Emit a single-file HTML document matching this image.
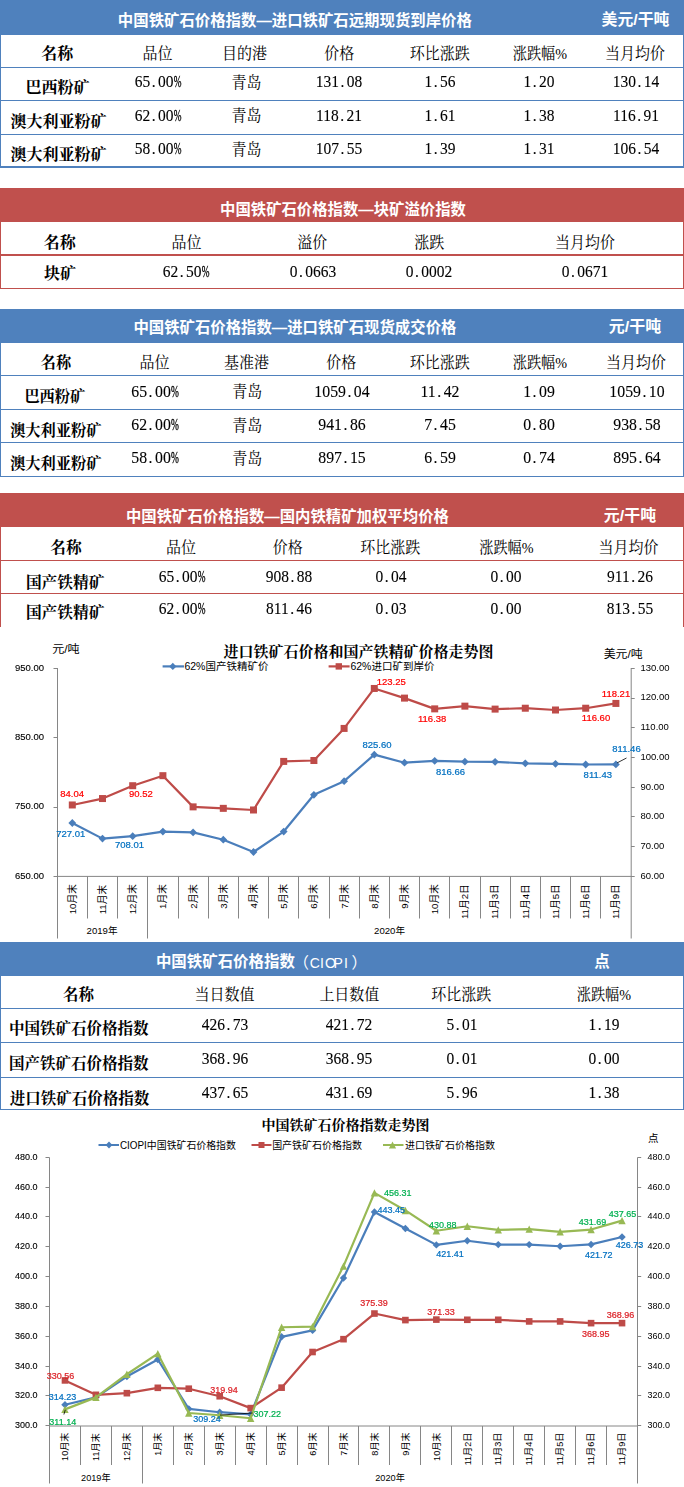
<!DOCTYPE html>
<html lang="zh"><head><meta charset="utf-8"><title>中国铁矿石价格指数</title>
<style>
html,body{margin:0;padding:0;background:#fff}
body{width:684px;height:1487px;overflow:hidden;font-family:"Liberation Sans",sans-serif}
#pg{position:relative;width:684px;height:1487px;overflow:hidden;background:#fff}
#tx{position:absolute;left:0;top:0;width:684px;height:1487px;will-change:transform;z-index:3}
.tb{position:absolute;left:0;width:682px;border-left:1px solid;border-right:1px solid;box-sizing:content-box}
.hd{position:absolute;left:-1px;right:-1px;top:0}
.ln{position:absolute;left:-1px;right:-1px}
.n{position:absolute;transform:translate(-50%,-50%) scaleX(.92);font-family:"Liberation Serif",serif;font-size:16.3px;line-height:16px;white-space:nowrap;color:#000;-webkit-text-stroke:.12px #000}
.n i{display:inline-block;font-style:normal;width:8.15px;text-align:left;text-indent:1.5px}
.n b{display:inline-block;font-weight:normal;width:8.15px;transform:scaleX(.6);transform-origin:0 50%;-webkit-text-stroke:.35px #000}
.c{position:absolute;z-index:3;transform:translate(-50%,-50%);font-family:"Liberation Sans",sans-serif;white-space:nowrap;line-height:1}
#ov{position:absolute;left:0;top:0;z-index:2}
#ov text{white-space:pre}
#ov .hb{font-family:"Liberation Sans","Noto Sans CJK SC",sans-serif;font-weight:bold;font-size:15.45px;fill:#fff}
#ov .kb{font-family:"Liberation Serif","Noto Serif CJK SC",serif;font-weight:bold;font-size:16px;fill:#000}
#ov .k{font-family:"Liberation Serif","Noto Serif CJK SC",serif;font-size:15.5px;fill:#000}
#ov .sb{font-family:"Liberation Serif","Noto Serif CJK SC",serif;font-weight:bold;fill:#000}
#ov .h{font-family:"Liberation Sans","Noto Sans CJK SC",sans-serif;fill:#000}
</style></head><body>
<div id="pg">
<div class="tb" style="top:0px;height:167px;border-color:#4f81bd"><div class="hd" style="height:35px;background:#4f81bd"></div><div class="ln" style="top:67px;height:1px;background:#4f81bd"></div><div class="ln" style="top:100px;height:1px;background:#4f81bd"></div><div class="ln" style="top:134px;height:1px;background:#4f81bd"></div></div>
<div class="ln" style="top:165.5px;height:2px;left:0;right:0;background:#4f81bd"></div>
<div class="tb" style="top:188px;height:101px;border-color:#c0504d"><div class="hd" style="height:34px;background:#c0504d"></div><div class="ln" style="top:66px;height:2px;background:#c0504d"></div></div>
<div class="ln" style="top:288px;height:1px;left:0;right:0;background:#c0504d"></div>
<div class="tb" style="top:309px;height:168px;border-color:#4f81bd"><div class="hd" style="height:34px;background:#4f81bd"></div><div class="ln" style="top:66px;height:1px;background:#4f81bd"></div><div class="ln" style="top:100px;height:1px;background:#4f81bd"></div><div class="ln" style="top:133px;height:1px;background:#4f81bd"></div></div>
<div class="ln" style="top:476px;height:1px;left:0;right:0;background:#4f81bd"></div>
<div class="tb" style="top:493px;height:134px;border-color:#c0504d"><div class="hd" style="height:34px;background:#c0504d"></div><div class="ln" style="top:67px;height:1px;background:#c0504d"></div><div class="ln" style="top:100px;height:1px;background:#c0504d"></div></div>
<div class="tb" style="top:942px;height:168px;border-color:#4f81bd"><div class="hd" style="height:34px;background:#4f81bd"></div><div class="ln" style="top:66px;height:1px;background:#4f81bd"></div><div class="ln" style="top:100px;height:1px;background:#4f81bd"></div><div class="ln" style="top:135px;height:1px;background:#4f81bd"></div></div>
<div class="ln" style="top:1109px;height:1px;left:0;right:0;background:#4f81bd"></div>
<div style="position:absolute;left:0;top:627px;width:684px;height:315px;background:#fff"></div>
<div id="tx">
<span class="n" style="left:158px;top:82px;transform:translate(-50%,-50%) scaleX(0.95);">65<i>.</i>00<b>%</b></span>
<span class="n" style="left:339.3px;top:82px;transform:translate(-50%,-50%) scaleX(0.95);">131<i>.</i>08</span>
<span class="n" style="left:440px;top:82px;transform:translate(-50%,-50%) scaleX(0.95);">1<i>.</i>56</span>
<span class="n" style="left:539px;top:82px;transform:translate(-50%,-50%) scaleX(0.95);">1<i>.</i>20</span>
<span class="n" style="left:636px;top:82px;transform:translate(-50%,-50%) scaleX(0.95);">130<i>.</i>14</span>
<span class="n" style="left:158px;top:115.5px;transform:translate(-50%,-50%) scaleX(0.95);">62<i>.</i>00<b>%</b></span>
<span class="n" style="left:339.3px;top:115.5px;transform:translate(-50%,-50%) scaleX(0.95);">118<i>.</i>21</span>
<span class="n" style="left:440px;top:115.5px;transform:translate(-50%,-50%) scaleX(0.95);">1<i>.</i>61</span>
<span class="n" style="left:539px;top:115.5px;transform:translate(-50%,-50%) scaleX(0.95);">1<i>.</i>38</span>
<span class="n" style="left:636px;top:115.5px;transform:translate(-50%,-50%) scaleX(0.95);">116<i>.</i>91</span>
<span class="n" style="left:158px;top:149px;transform:translate(-50%,-50%) scaleX(0.95);">58<i>.</i>00<b>%</b></span>
<span class="n" style="left:339.3px;top:149px;transform:translate(-50%,-50%) scaleX(0.95);">107<i>.</i>55</span>
<span class="n" style="left:440px;top:149px;transform:translate(-50%,-50%) scaleX(0.95);">1<i>.</i>39</span>
<span class="n" style="left:539px;top:149px;transform:translate(-50%,-50%) scaleX(0.95);">1<i>.</i>31</span>
<span class="n" style="left:636px;top:149px;transform:translate(-50%,-50%) scaleX(0.95);">106<i>.</i>54</span>
<span class="n" style="left:186px;top:271.8px;transform:translate(-50%,-50%) scaleX(0.95);">62<i>.</i>50<b>%</b></span>
<span class="n" style="left:312.5px;top:271.8px;transform:translate(-50%,-50%) scaleX(0.95);">0<i>.</i>0663</span>
<span class="n" style="left:429px;top:271.8px;transform:translate(-50%,-50%) scaleX(0.95);">0<i>.</i>0002</span>
<span class="n" style="left:585px;top:271.8px;transform:translate(-50%,-50%) scaleX(0.95);">0<i>.</i>0671</span>
<span class="n" style="left:154.5px;top:391.5px;transform:translate(-50%,-50%) scaleX(0.97);">65<i>.</i>00<b>%</b></span>
<span class="n" style="left:341.5px;top:391.5px;transform:translate(-50%,-50%) scaleX(0.97);">1059<i>.</i>04</span>
<span class="n" style="left:440px;top:391.5px;transform:translate(-50%,-50%) scaleX(0.97);">11<i>.</i>42</span>
<span class="n" style="left:539px;top:391.5px;transform:translate(-50%,-50%) scaleX(0.97);">1<i>.</i>09</span>
<span class="n" style="left:637px;top:391.5px;transform:translate(-50%,-50%) scaleX(0.97);">1059<i>.</i>10</span>
<span class="n" style="left:154.5px;top:425px;transform:translate(-50%,-50%) scaleX(0.97);">62<i>.</i>00<b>%</b></span>
<span class="n" style="left:341.5px;top:425px;transform:translate(-50%,-50%) scaleX(0.97);">941<i>.</i>86</span>
<span class="n" style="left:440px;top:425px;transform:translate(-50%,-50%) scaleX(0.97);">7<i>.</i>45</span>
<span class="n" style="left:539px;top:425px;transform:translate(-50%,-50%) scaleX(0.97);">0<i>.</i>80</span>
<span class="n" style="left:637px;top:425px;transform:translate(-50%,-50%) scaleX(0.97);">938<i>.</i>58</span>
<span class="n" style="left:154.5px;top:458px;transform:translate(-50%,-50%) scaleX(0.97);">58<i>.</i>00<b>%</b></span>
<span class="n" style="left:341.5px;top:458px;transform:translate(-50%,-50%) scaleX(0.97);">897<i>.</i>15</span>
<span class="n" style="left:440px;top:458px;transform:translate(-50%,-50%) scaleX(0.97);">6<i>.</i>59</span>
<span class="n" style="left:539px;top:458px;transform:translate(-50%,-50%) scaleX(0.97);">0<i>.</i>74</span>
<span class="n" style="left:637px;top:458px;transform:translate(-50%,-50%) scaleX(0.97);">895<i>.</i>64</span>
<span class="n" style="left:181.5px;top:576.7px;transform:translate(-50%,-50%) scaleX(0.95);">65<i>.</i>00<b>%</b></span>
<span class="n" style="left:288.5px;top:576.7px;transform:translate(-50%,-50%) scaleX(0.95);">908<i>.</i>88</span>
<span class="n" style="left:391px;top:576.7px;transform:translate(-50%,-50%) scaleX(0.95);">0<i>.</i>04</span>
<span class="n" style="left:506px;top:576.7px;transform:translate(-50%,-50%) scaleX(0.95);">0<i>.</i>00</span>
<span class="n" style="left:630px;top:576.7px;transform:translate(-50%,-50%) scaleX(0.95);">911<i>.</i>26</span>
<span class="n" style="left:181.5px;top:609.3px;transform:translate(-50%,-50%) scaleX(0.95);">62<i>.</i>00<b>%</b></span>
<span class="n" style="left:288.5px;top:609.3px;transform:translate(-50%,-50%) scaleX(0.95);">811<i>.</i>46</span>
<span class="n" style="left:391px;top:609.3px;transform:translate(-50%,-50%) scaleX(0.95);">0<i>.</i>03</span>
<span class="n" style="left:506px;top:609.3px;transform:translate(-50%,-50%) scaleX(0.95);">0<i>.</i>00</span>
<span class="n" style="left:630px;top:609.3px;transform:translate(-50%,-50%) scaleX(0.95);">813<i>.</i>55</span>
<span class="n" style="left:224.5px;top:1024.5px;transform:translate(-50%,-50%) scaleX(0.95);">426<i>.</i>73</span>
<span class="n" style="left:348.5px;top:1024.5px;transform:translate(-50%,-50%) scaleX(0.95);">421<i>.</i>72</span>
<span class="n" style="left:461.5px;top:1024.5px;transform:translate(-50%,-50%) scaleX(0.95);">5<i>.</i>01</span>
<span class="n" style="left:603.5px;top:1024.5px;transform:translate(-50%,-50%) scaleX(0.95);">1<i>.</i>19</span>
<span class="n" style="left:224.5px;top:1058.5px;transform:translate(-50%,-50%) scaleX(0.95);">368<i>.</i>96</span>
<span class="n" style="left:348.5px;top:1058.5px;transform:translate(-50%,-50%) scaleX(0.95);">368<i>.</i>95</span>
<span class="n" style="left:461.5px;top:1058.5px;transform:translate(-50%,-50%) scaleX(0.95);">0<i>.</i>01</span>
<span class="n" style="left:603.5px;top:1058.5px;transform:translate(-50%,-50%) scaleX(0.95);">0<i>.</i>00</span>
<span class="n" style="left:224.5px;top:1092.5px;transform:translate(-50%,-50%) scaleX(0.95);">437<i>.</i>65</span>
<span class="n" style="left:348.5px;top:1092.5px;transform:translate(-50%,-50%) scaleX(0.95);">431<i>.</i>69</span>
<span class="n" style="left:461.5px;top:1092.5px;transform:translate(-50%,-50%) scaleX(0.95);">5<i>.</i>96</span>
<span class="n" style="left:603.5px;top:1092.5px;transform:translate(-50%,-50%) scaleX(0.95);">1<i>.</i>38</span>
<span class="c" style="left:29.5px;top:667.7px;font-size:9.5px;color:#000;-webkit-text-stroke:.12px #000;">950.00</span>
<span class="c" style="left:29.5px;top:737.03px;font-size:9.5px;color:#000;-webkit-text-stroke:.12px #000;">850.00</span>
<span class="c" style="left:29.5px;top:806.37px;font-size:9.5px;color:#000;-webkit-text-stroke:.12px #000;">750.00</span>
<span class="c" style="left:29.5px;top:875.7px;font-size:9.5px;color:#000;-webkit-text-stroke:.12px #000;">650.00</span>
<span class="c" style="left:640.5px;top:667.7px;font-size:9.5px;color:#000;transform:translate(0,-50%)">130.00</span>
<span class="c" style="left:640.5px;top:697.41px;font-size:9.5px;color:#000;transform:translate(0,-50%)">120.00</span>
<span class="c" style="left:640.5px;top:727.13px;font-size:9.5px;color:#000;transform:translate(0,-50%)">110.00</span>
<span class="c" style="left:640.5px;top:756.84px;font-size:9.5px;color:#000;transform:translate(0,-50%)">100.00</span>
<span class="c" style="left:640.5px;top:786.56px;font-size:9.5px;color:#000;transform:translate(0,-50%)">90.00</span>
<span class="c" style="left:640.5px;top:816.27px;font-size:9.5px;color:#000;transform:translate(0,-50%)">80.00</span>
<span class="c" style="left:640.5px;top:845.99px;font-size:9.5px;color:#000;transform:translate(0,-50%)">70.00</span>
<span class="c" style="left:640.5px;top:875.7px;font-size:9.5px;color:#000;transform:translate(0,-50%)">60.00</span>
<span class="c" style="left:72.2px;top:794px;font-size:9.5px;color:#ff0000;-webkit-text-stroke:.22px #ff0000;">84.04</span>
<span class="c" style="left:140.9px;top:794px;font-size:9.5px;color:#ff0000;-webkit-text-stroke:.22px #ff0000;">90.52</span>
<span class="c" style="left:391.2px;top:682.4px;font-size:9.5px;color:#ff0000;-webkit-text-stroke:.22px #ff0000;">123.25</span>
<span class="c" style="left:432.2px;top:718.8px;font-size:9.5px;color:#ff0000;-webkit-text-stroke:.22px #ff0000;">116.38</span>
<span class="c" style="left:596px;top:718px;font-size:9.5px;color:#ff0000;-webkit-text-stroke:.22px #ff0000;">116.60</span>
<span class="c" style="left:616px;top:693.7px;font-size:9.5px;color:#ff0000;-webkit-text-stroke:.22px #ff0000;">118.21</span>
<span class="c" style="left:70.7px;top:834.4px;font-size:9.5px;color:#0070c0;-webkit-text-stroke:.22px #0070c0;">727.01</span>
<span class="c" style="left:129.5px;top:845.2px;font-size:9.5px;color:#0070c0;-webkit-text-stroke:.22px #0070c0;">708.01</span>
<span class="c" style="left:377px;top:744.6px;font-size:9.5px;color:#0070c0;-webkit-text-stroke:.22px #0070c0;">825.60</span>
<span class="c" style="left:450.5px;top:772.4px;font-size:9.5px;color:#0070c0;-webkit-text-stroke:.22px #0070c0;">816.66</span>
<span class="c" style="left:597.8px;top:775.4px;font-size:9.5px;color:#0070c0;-webkit-text-stroke:.22px #0070c0;">811.43</span>
<span class="c" style="left:626.5px;top:749.3px;font-size:9.5px;color:#0070c0;-webkit-text-stroke:.22px #0070c0;">811.46</span>
<span class="c" style="left:26.3px;top:1156.8px;font-size:9px;color:#000;-webkit-text-stroke:.12px #000;">480.0</span>
<span class="c" style="left:647.5px;top:1156.8px;font-size:9px;color:#000;transform:translate(0,-50%)">480.0</span>
<span class="c" style="left:26.3px;top:1186.63px;font-size:9px;color:#000;-webkit-text-stroke:.12px #000;">460.0</span>
<span class="c" style="left:647.5px;top:1186.63px;font-size:9px;color:#000;transform:translate(0,-50%)">460.0</span>
<span class="c" style="left:26.3px;top:1216.47px;font-size:9px;color:#000;-webkit-text-stroke:.12px #000;">440.0</span>
<span class="c" style="left:647.5px;top:1216.47px;font-size:9px;color:#000;transform:translate(0,-50%)">440.0</span>
<span class="c" style="left:26.3px;top:1246.3px;font-size:9px;color:#000;-webkit-text-stroke:.12px #000;">420.0</span>
<span class="c" style="left:647.5px;top:1246.3px;font-size:9px;color:#000;transform:translate(0,-50%)">420.0</span>
<span class="c" style="left:26.3px;top:1276.13px;font-size:9px;color:#000;-webkit-text-stroke:.12px #000;">400.0</span>
<span class="c" style="left:647.5px;top:1276.13px;font-size:9px;color:#000;transform:translate(0,-50%)">400.0</span>
<span class="c" style="left:26.3px;top:1305.97px;font-size:9px;color:#000;-webkit-text-stroke:.12px #000;">380.0</span>
<span class="c" style="left:647.5px;top:1305.97px;font-size:9px;color:#000;transform:translate(0,-50%)">380.0</span>
<span class="c" style="left:26.3px;top:1335.8px;font-size:9px;color:#000;-webkit-text-stroke:.12px #000;">360.0</span>
<span class="c" style="left:647.5px;top:1335.8px;font-size:9px;color:#000;transform:translate(0,-50%)">360.0</span>
<span class="c" style="left:26.3px;top:1365.63px;font-size:9px;color:#000;-webkit-text-stroke:.12px #000;">340.0</span>
<span class="c" style="left:647.5px;top:1365.63px;font-size:9px;color:#000;transform:translate(0,-50%)">340.0</span>
<span class="c" style="left:26.3px;top:1395.47px;font-size:9px;color:#000;-webkit-text-stroke:.12px #000;">320.0</span>
<span class="c" style="left:647.5px;top:1395.47px;font-size:9px;color:#000;transform:translate(0,-50%)">320.0</span>
<span class="c" style="left:26.3px;top:1425.3px;font-size:9px;color:#000;-webkit-text-stroke:.12px #000;">300.0</span>
<span class="c" style="left:647.5px;top:1425.3px;font-size:9px;color:#000;transform:translate(0,-50%)">300.0</span>
<span class="c" style="left:397.8px;top:1192.5px;font-size:9px;color:#00b050;-webkit-text-stroke:.22px #00b050;">456.31</span>
<span class="c" style="left:391.3px;top:1209.5px;font-size:9px;color:#0070c0;-webkit-text-stroke:.22px #0070c0;">443.45</span>
<span class="c" style="left:442.8px;top:1224.6px;font-size:9px;color:#00b050;-webkit-text-stroke:.22px #00b050;">430.88</span>
<span class="c" style="left:449.9px;top:1253.6px;font-size:9px;color:#0070c0;-webkit-text-stroke:.22px #0070c0;">421.41</span>
<span class="c" style="left:374px;top:1303.4px;font-size:9px;color:#dc2228;-webkit-text-stroke:.22px #dc2228;">375.39</span>
<span class="c" style="left:440.9px;top:1312.4px;font-size:9px;color:#dc2228;-webkit-text-stroke:.22px #dc2228;">371.33</span>
<span class="c" style="left:267.3px;top:1414.1px;font-size:9px;color:#00b050;-webkit-text-stroke:.22px #00b050;">307.22</span>
<span class="c" style="left:60.4px;top:1376.2px;font-size:9px;color:#dc2228;-webkit-text-stroke:.22px #dc2228;">330.56</span>
<span class="c" style="left:62.5px;top:1397.1px;font-size:9px;color:#0070c0;-webkit-text-stroke:.22px #0070c0;">314.23</span>
<span class="c" style="left:62.8px;top:1421.9px;font-size:9px;color:#00b050;-webkit-text-stroke:.22px #00b050;">311.14</span>
<span class="c" style="left:207.1px;top:1419.3px;font-size:9px;color:#0070c0;-webkit-text-stroke:.22px #0070c0;">309.24</span>
<span class="c" style="left:224.1px;top:1389.7px;font-size:9px;color:#dc2228;-webkit-text-stroke:.22px #dc2228;">319.94</span>
<span class="c" style="left:622.5px;top:1214.3px;font-size:9px;color:#00b050;-webkit-text-stroke:.22px #00b050;">437.65</span>
<span class="c" style="left:592.6px;top:1221.7px;font-size:9px;color:#00b050;-webkit-text-stroke:.22px #00b050;">431.69</span>
<span class="c" style="left:629.6px;top:1245.2px;font-size:9px;color:#0070c0;-webkit-text-stroke:.22px #0070c0;">426.73</span>
<span class="c" style="left:598.7px;top:1255.2px;font-size:9px;color:#0070c0;-webkit-text-stroke:.22px #0070c0;">421.72</span>
<span class="c" style="left:620.6px;top:1314.7px;font-size:9px;color:#dc2228;-webkit-text-stroke:.22px #dc2228;">368.96</span>
<span class="c" style="left:595.7px;top:1334.3px;font-size:9px;color:#dc2228;-webkit-text-stroke:.22px #dc2228;">368.95</span>
</div>
<svg id="ov" width="684" height="1487" viewBox="0 0 684 1487">
<text class="hb" x="117.87" y="26.27" textLength="354" lengthAdjust="spacingAndGlyphs">中国铁矿石价格指数—进口铁矿石远期现货到岸价格</text>
<text class="hb" x="601.59" y="25.22" textLength="67.8" lengthAdjust="spacingAndGlyphs">美元/干吨</text>
<text class="kb" x="41.21" y="59.32" textLength="32" lengthAdjust="spacingAndGlyphs">名称</text>
<text class="k" x="142.43" y="59.28" textLength="30" lengthAdjust="spacingAndGlyphs">品位</text>
<text class="k" x="222.05" y="59.46" textLength="45" lengthAdjust="spacingAndGlyphs">目的港</text>
<text class="k" x="324.16" y="59.43" textLength="30" lengthAdjust="spacingAndGlyphs">价格</text>
<text class="k" x="409.86" y="59.27" textLength="60" lengthAdjust="spacingAndGlyphs">环比涨跌</text>
<text class="k" x="512.69" y="59.31" textLength="54.4" lengthAdjust="spacingAndGlyphs">涨跌幅%</text>
<text class="k" x="604.92" y="59.36" textLength="60" lengthAdjust="spacingAndGlyphs">当月均价</text>
<text class="kb" x="25.4" y="93.15" textLength="64" lengthAdjust="spacingAndGlyphs">巴西粉矿</text>
<text class="k" x="231.49" y="87.94" textLength="30" lengthAdjust="spacingAndGlyphs">青岛</text>
<text class="kb" x="10.41" y="126.58" textLength="96" lengthAdjust="spacingAndGlyphs">澳大利亚粉矿</text>
<text class="k" x="231.49" y="121.44" textLength="30" lengthAdjust="spacingAndGlyphs">青岛</text>
<text class="kb" x="10.41" y="159.78" textLength="96" lengthAdjust="spacingAndGlyphs">澳大利亚粉矿</text>
<text class="k" x="231.49" y="154.94" textLength="30" lengthAdjust="spacingAndGlyphs">青岛</text>
<text class="hb" x="220.07" y="214.64" textLength="245.8" lengthAdjust="spacingAndGlyphs">中国铁矿石价格指数—块矿溢价指数</text>
<text class="kb" x="43.71" y="248.12" textLength="32" lengthAdjust="spacingAndGlyphs">名称</text>
<text class="k" x="171.43" y="248.08" textLength="30" lengthAdjust="spacingAndGlyphs">品位</text>
<text class="k" x="297.27" y="248.23" textLength="30" lengthAdjust="spacingAndGlyphs">溢价</text>
<text class="k" x="414.26" y="248.17" textLength="30" lengthAdjust="spacingAndGlyphs">涨跌</text>
<text class="k" x="554.92" y="248.16" textLength="60" lengthAdjust="spacingAndGlyphs">当月均价</text>
<text class="kb" x="43.96" y="278.88" textLength="32" lengthAdjust="spacingAndGlyphs">块矿</text>
<text class="hb" x="133.42" y="332.87" textLength="323" lengthAdjust="spacingAndGlyphs">中国铁矿石价格指数—进口铁矿石现货成交价格</text>
<text class="hb" x="608.8" y="332.15" textLength="52.3" lengthAdjust="spacingAndGlyphs">元/干吨</text>
<text class="kb" x="40.87" y="368.32" textLength="30.4" lengthAdjust="spacingAndGlyphs">名称</text>
<text class="k" x="139.43" y="368.28" textLength="30" lengthAdjust="spacingAndGlyphs">品位</text>
<text class="k" x="223.91" y="368.41" textLength="45" lengthAdjust="spacingAndGlyphs">基准港</text>
<text class="k" x="326.36" y="368.43" textLength="30" lengthAdjust="spacingAndGlyphs">价格</text>
<text class="k" x="409.86" y="368.27" textLength="60" lengthAdjust="spacingAndGlyphs">环比涨跌</text>
<text class="k" x="512.69" y="368.31" textLength="54.4" lengthAdjust="spacingAndGlyphs">涨跌幅%</text>
<text class="k" x="605.92" y="368.36" textLength="60" lengthAdjust="spacingAndGlyphs">当月均价</text>
<text class="kb" x="24.38" y="401.65" textLength="60.8" lengthAdjust="spacingAndGlyphs">巴西粉矿</text>
<text class="k" x="232.19" y="397.44" textLength="30" lengthAdjust="spacingAndGlyphs">青岛</text>
<text class="kb" x="10.16" y="435.78" textLength="91.3" lengthAdjust="spacingAndGlyphs">澳大利亚粉矿</text>
<text class="k" x="232.19" y="430.94" textLength="30" lengthAdjust="spacingAndGlyphs">青岛</text>
<text class="kb" x="10.16" y="468.78" textLength="91.3" lengthAdjust="spacingAndGlyphs">澳大利亚粉矿</text>
<text class="k" x="232.19" y="463.94" textLength="30" lengthAdjust="spacingAndGlyphs">青岛</text>
<text class="hb" x="125.92" y="521.83" textLength="323" lengthAdjust="spacingAndGlyphs">中国铁矿石价格指数—国内铁精矿加权平均价格</text>
<text class="hb" x="603.8" y="521.15" textLength="52.3" lengthAdjust="spacingAndGlyphs">元/干吨</text>
<text class="kb" x="50.37" y="552.82" textLength="31.4" lengthAdjust="spacingAndGlyphs">名称</text>
<text class="k" x="165.93" y="552.78" textLength="30" lengthAdjust="spacingAndGlyphs">品位</text>
<text class="k" x="272.86" y="552.93" textLength="30" lengthAdjust="spacingAndGlyphs">价格</text>
<text class="k" x="360.36" y="552.77" textLength="60" lengthAdjust="spacingAndGlyphs">环比涨跌</text>
<text class="k" x="479.19" y="552.81" textLength="54.4" lengthAdjust="spacingAndGlyphs">涨跌幅%</text>
<text class="k" x="598.42" y="552.86" textLength="60" lengthAdjust="spacingAndGlyphs">当月均价</text>
<text class="kb" x="25.91" y="588.23" textLength="78.5" lengthAdjust="spacingAndGlyphs">国产铁精矿</text>
<text class="kb" x="25.91" y="618.23" textLength="78.5" lengthAdjust="spacingAndGlyphs">国产铁精矿</text>
<text class="hb" x="155.88" y="966.83" textLength="139" lengthAdjust="spacingAndGlyphs">中国铁矿石价格指数</text>
<text class="h" x="293.4" y="967.95" font-size="15.4" style="fill:#fff">（</text>
<text class="h" x="309.81 320.02 325.11 333.56 344.02" y="967.78" font-size="14" style="fill:#fff">CIOPI</text>
<text class="h" x="351.5" y="967.95" font-size="15.4" style="fill:#fff">）</text>
<text class="hb" x="594.3" y="966.9">点</text>
<text class="kb" x="63.07" y="999.82" textLength="31" lengthAdjust="spacingAndGlyphs">名称</text>
<text class="k" x="194.58" y="999.91" textLength="60" lengthAdjust="spacingAndGlyphs">当日数值</text>
<text class="k" x="319.39" y="999.91" textLength="60" lengthAdjust="spacingAndGlyphs">上日数值</text>
<text class="k" x="431.36" y="999.77" textLength="60" lengthAdjust="spacingAndGlyphs">环比涨跌</text>
<text class="k" x="576.69" y="999.81" textLength="54.4" lengthAdjust="spacingAndGlyphs">涨跌幅%</text>
<text class="kb" x="8.94" y="1033.78" textLength="139.5" lengthAdjust="spacingAndGlyphs">中国铁矿石价格指数</text>
<text class="kb" x="9.03" y="1068.73" textLength="139.5" lengthAdjust="spacingAndGlyphs">国产铁矿石价格指数</text>
<text class="kb" x="9.69" y="1103.82" textLength="139.5" lengthAdjust="spacingAndGlyphs">进口铁矿石价格指数</text>
<g><path d="M57.5 668V938.5 M631.2 668V938.5 M57.2 876.4H631" stroke="#868686" stroke-width="1" fill="none"/><path d="M57.5 668.5h-4M57.5 737.5h-4M57.5 807.5h-4M57.5 876.5h-4M631 668.5h3.7M631 698.5h3.7M631 727.5h3.7M631 757.5h3.7M631 787.5h3.7M631 816.5h3.7M631 846.5h3.7M631 876.5h3.7M87.5 876.4V918.5M117.5 876.4V918.5M147.5 876.4V938.5M178.5 876.4V918.5M208.5 876.4V918.5M238.5 876.4V918.5M268.5 876.4V918.5M298.5 876.4V918.5M329.5 876.4V918.5M359.5 876.4V918.5M389.5 876.4V918.5M419.5 876.4V918.5M449.5 876.4V918.5M480.5 876.4V918.5M510.5 876.4V918.5M540.5 876.4V918.5M570.5 876.4V918.5M600.5 876.4V918.5" stroke="#868686" stroke-width="1" fill="none"/><polyline points="72.3,823.01 102.5,838.61 132.7,836.18 162.9,831.54 193.1,832.44 223.3,839.72 253.5,851.99 283.7,831.54 313.9,794.79 344.1,781.14 374.3,754.65 404.5,762.69 434.7,760.85 464.9,761.72 495.1,761.86 525.3,763.32 555.5,763.87 585.7,764.48 615.9,764.45" fill="none" stroke="#4a7ebb" stroke-width="2.2" stroke-linejoin="round" stroke-linecap="round"/><path d="M72.3 819.11l3.9 3.9l-3.9 3.9l-3.9 -3.9z" fill="#4a7ebb"/><path d="M102.5 834.71l3.9 3.9l-3.9 3.9l-3.9 -3.9z" fill="#4a7ebb"/><path d="M132.7 832.28l3.9 3.9l-3.9 3.9l-3.9 -3.9z" fill="#4a7ebb"/><path d="M162.9 827.64l3.9 3.9l-3.9 3.9l-3.9 -3.9z" fill="#4a7ebb"/><path d="M193.1 828.54l3.9 3.9l-3.9 3.9l-3.9 -3.9z" fill="#4a7ebb"/><path d="M223.3 835.82l3.9 3.9l-3.9 3.9l-3.9 -3.9z" fill="#4a7ebb"/><path d="M253.5 848.09l3.9 3.9l-3.9 3.9l-3.9 -3.9z" fill="#4a7ebb"/><path d="M283.7 827.64l3.9 3.9l-3.9 3.9l-3.9 -3.9z" fill="#4a7ebb"/><path d="M313.9 790.89l3.9 3.9l-3.9 3.9l-3.9 -3.9z" fill="#4a7ebb"/><path d="M344.1 777.24l3.9 3.9l-3.9 3.9l-3.9 -3.9z" fill="#4a7ebb"/><path d="M374.3 750.75l3.9 3.9l-3.9 3.9l-3.9 -3.9z" fill="#4a7ebb"/><path d="M404.5 758.79l3.9 3.9l-3.9 3.9l-3.9 -3.9z" fill="#4a7ebb"/><path d="M434.7 756.95l3.9 3.9l-3.9 3.9l-3.9 -3.9z" fill="#4a7ebb"/><path d="M464.9 757.82l3.9 3.9l-3.9 3.9l-3.9 -3.9z" fill="#4a7ebb"/><path d="M495.1 757.96l3.9 3.9l-3.9 3.9l-3.9 -3.9z" fill="#4a7ebb"/><path d="M525.3 759.42l3.9 3.9l-3.9 3.9l-3.9 -3.9z" fill="#4a7ebb"/><path d="M555.5 759.97l3.9 3.9l-3.9 3.9l-3.9 -3.9z" fill="#4a7ebb"/><path d="M585.7 760.58l3.9 3.9l-3.9 3.9l-3.9 -3.9z" fill="#4a7ebb"/><path d="M615.9 760.55l3.9 3.9l-3.9 3.9l-3.9 -3.9z" fill="#4a7ebb"/><polyline points="72.3,804.97 102.5,798.55 132.7,785.71 162.9,775.67 193.1,806.87 223.3,808.35 253.5,809.99 283.7,761.41 313.9,760.51 344.1,728.42 374.3,688.46 404.5,698.11 434.7,708.87 464.9,706.14 495.1,709.11 525.3,708.22 555.5,710 585.7,708.22 615.9,703.43" fill="none" stroke="#be4b48" stroke-width="2.2" stroke-linejoin="round" stroke-linecap="round"/><rect x="68.8" y="801.47" width="7" height="7" fill="#be4b48"/><rect x="99" y="795.05" width="7" height="7" fill="#be4b48"/><rect x="129.2" y="782.21" width="7" height="7" fill="#be4b48"/><rect x="159.4" y="772.17" width="7" height="7" fill="#be4b48"/><rect x="189.6" y="803.37" width="7" height="7" fill="#be4b48"/><rect x="219.8" y="804.85" width="7" height="7" fill="#be4b48"/><rect x="250" y="806.49" width="7" height="7" fill="#be4b48"/><rect x="280.2" y="757.91" width="7" height="7" fill="#be4b48"/><rect x="310.4" y="757.01" width="7" height="7" fill="#be4b48"/><rect x="340.6" y="724.92" width="7" height="7" fill="#be4b48"/><rect x="370.8" y="684.96" width="7" height="7" fill="#be4b48"/><rect x="401" y="694.61" width="7" height="7" fill="#be4b48"/><rect x="431.2" y="705.37" width="7" height="7" fill="#be4b48"/><rect x="461.4" y="702.64" width="7" height="7" fill="#be4b48"/><rect x="491.6" y="705.61" width="7" height="7" fill="#be4b48"/><rect x="521.8" y="704.72" width="7" height="7" fill="#be4b48"/><rect x="552" y="706.5" width="7" height="7" fill="#be4b48"/><rect x="582.2" y="704.72" width="7" height="7" fill="#be4b48"/><rect x="612.4" y="699.93" width="7" height="7" fill="#be4b48"/><path d="M617.1 762.9L626.5 758" stroke="#000" stroke-width="0.8"/><path d="M162.6 666.4H184" stroke="#4a7ebb" stroke-width="2.2"/><path d="M172.8 662.8l3.6 3.6l-3.6 3.6l-3.6 -3.6z" fill="#4a7ebb"/><path d="M328.6 666.4H349.6" stroke="#be4b48" stroke-width="2.2"/><rect x="335.6" y="663.2" width="6.4" height="6.4" fill="#be4b48"/></g>
<text class="h" x="184.41" y="670.36" font-size="10.45" textLength="84" lengthAdjust="spacingAndGlyphs">62%国产铁精矿价</text>
<text class="h" x="350.41" y="670.36" font-size="10.45" textLength="84" lengthAdjust="spacingAndGlyphs">62%进口矿到岸价</text>
<text class="sb" x="223.49" y="656.88" font-size="15" textLength="270" lengthAdjust="spacingAndGlyphs">进口铁矿石价格和国产铁精矿价格走势图</text>
<text class="h" x="52.19" y="652.79" font-size="11.5" textLength="27.5" lengthAdjust="spacingAndGlyphs">元/吨</text>
<text class="h" x="603.68" y="657.52" font-size="11.5" textLength="39" lengthAdjust="spacingAndGlyphs">美元/吨</text>
<text class="h" font-size="9.7" transform="translate(72.2 898.98) rotate(-90) translate(-15.35 3.68)">10月末</text>
<text class="h" font-size="9.7" transform="translate(102.4 898.98) rotate(-90) translate(-15.35 3.68)">11月末</text>
<text class="h" font-size="9.7" transform="translate(132.6 898.98) rotate(-90) translate(-15.35 3.68)">12月末</text>
<text class="h" font-size="9.7" transform="translate(162.8 896.29) rotate(-90) translate(-12.66 3.68)">1月末</text>
<text class="h" font-size="9.7" transform="translate(193 896.29) rotate(-90) translate(-12.43 3.68)">2月末</text>
<text class="h" font-size="9.7" transform="translate(223.2 896.29) rotate(-90) translate(-12.37 3.68)">3月末</text>
<text class="h" font-size="9.7" transform="translate(253.4 896.29) rotate(-90) translate(-12.33 3.68)">4月末</text>
<text class="h" font-size="9.7" transform="translate(283.6 896.29) rotate(-90) translate(-12.36 3.68)">5月末</text>
<text class="h" font-size="9.7" transform="translate(313.8 896.29) rotate(-90) translate(-12.5 3.68)">6月末</text>
<text class="h" font-size="9.7" transform="translate(344 896.29) rotate(-90) translate(-12.47 3.68)">7月末</text>
<text class="h" font-size="9.7" transform="translate(374.2 896.29) rotate(-90) translate(-12.45 3.68)">8月末</text>
<text class="h" font-size="9.7" transform="translate(404.4 896.29) rotate(-90) translate(-12.45 3.68)">9月末</text>
<text class="h" font-size="9.7" transform="translate(434.6 898.98) rotate(-90) translate(-15.35 3.68)">10月末</text>
<text class="h" font-size="9.7" transform="translate(464.8 901.68) rotate(-90) translate(-17.39 3.42)">11月2日</text>
<text class="h" font-size="9.7" transform="translate(495 901.68) rotate(-90) translate(-17.39 3.42)">11月3日</text>
<text class="h" font-size="9.7" transform="translate(525.2 901.68) rotate(-90) translate(-17.39 3.42)">11月4日</text>
<text class="h" font-size="9.7" transform="translate(555.4 901.68) rotate(-90) translate(-17.39 3.42)">11月5日</text>
<text class="h" font-size="9.7" transform="translate(585.6 901.68) rotate(-90) translate(-17.39 3.42)">11月6日</text>
<text class="h" font-size="9.7" transform="translate(615.8 901.68) rotate(-90) translate(-17.39 3.42)">11月9日</text>
<text class="h" x="86.57" y="934.17" font-size="9.6">2019年</text>
<text class="h" x="374.07" y="934.17" font-size="9.6">2020年</text>
<g><path d="M49.5 1157.5V1483.5 M637.5 1157.5V1483.5 M49.5 1426H637.5" stroke="#868686" stroke-width="1" fill="none"/><path d="M49.5 1157.5h-4M637.5 1157.5h3.7M49.5 1187.5h-4M637.5 1187.5h3.7M49.5 1216.5h-4M637.5 1216.5h3.7M49.5 1246.5h-4M637.5 1246.5h3.7M49.5 1276.5h-4M637.5 1276.5h3.7M49.5 1306.5h-4M637.5 1306.5h3.7M49.5 1336.5h-4M637.5 1336.5h3.7M49.5 1366.5h-4M637.5 1366.5h3.7M49.5 1395.5h-4M637.5 1395.5h3.7M49.5 1425.5h-4M637.5 1425.5h3.7M80.5 1426V1465M111.5 1426V1465M142.5 1426V1483.5M173.5 1426V1465M204.5 1426V1465M235.5 1426V1465M266.5 1426V1465M297.5 1426V1465M328.5 1426V1465M358.5 1426V1465M389.5 1426V1465M420.5 1426V1465M451.5 1426V1465M482.5 1426V1465M513.5 1426V1465M544.5 1426V1465M575.5 1426V1465M606.5 1426V1465" stroke="#868686" stroke-width="1" fill="none"/><polyline points="64.97,1404.77 95.92,1397.36 126.87,1376.48 157.82,1359.47 188.76,1408.85 219.71,1412.22 250.66,1414.37 281.61,1336.8 312.55,1330.38 343.5,1278.03 374.45,1212.02 405.39,1228.5 436.34,1244.9 467.29,1240.74 498.24,1244.61 529.18,1244.61 560.13,1246.25 591.08,1244.43 622.03,1236.96" fill="none" stroke="#4a7ebb" stroke-width="2.2" stroke-linejoin="round" stroke-linecap="round"/><path d="M64.97 1401.07l3.7 3.7l-3.7 3.7l-3.7 -3.7z" fill="#4a7ebb"/><path d="M95.92 1393.66l3.7 3.7l-3.7 3.7l-3.7 -3.7z" fill="#4a7ebb"/><path d="M126.87 1372.78l3.7 3.7l-3.7 3.7l-3.7 -3.7z" fill="#4a7ebb"/><path d="M157.82 1355.77l3.7 3.7l-3.7 3.7l-3.7 -3.7z" fill="#4a7ebb"/><path d="M188.76 1405.15l3.7 3.7l-3.7 3.7l-3.7 -3.7z" fill="#4a7ebb"/><path d="M219.71 1408.52l3.7 3.7l-3.7 3.7l-3.7 -3.7z" fill="#4a7ebb"/><path d="M250.66 1410.66l3.7 3.7l-3.7 3.7l-3.7 -3.7z" fill="#4a7ebb"/><path d="M281.61 1333.1l3.7 3.7l-3.7 3.7l-3.7 -3.7z" fill="#4a7ebb"/><path d="M312.55 1326.68l3.7 3.7l-3.7 3.7l-3.7 -3.7z" fill="#4a7ebb"/><path d="M343.5 1274.33l3.7 3.7l-3.7 3.7l-3.7 -3.7z" fill="#4a7ebb"/><path d="M374.45 1208.32l3.7 3.7l-3.7 3.7l-3.7 -3.7z" fill="#4a7ebb"/><path d="M405.39 1224.8l3.7 3.7l-3.7 3.7l-3.7 -3.7z" fill="#4a7ebb"/><path d="M436.34 1241.2l3.7 3.7l-3.7 3.7l-3.7 -3.7z" fill="#4a7ebb"/><path d="M467.29 1237.04l3.7 3.7l-3.7 3.7l-3.7 -3.7z" fill="#4a7ebb"/><path d="M498.24 1240.91l3.7 3.7l-3.7 3.7l-3.7 -3.7z" fill="#4a7ebb"/><path d="M529.18 1240.91l3.7 3.7l-3.7 3.7l-3.7 -3.7z" fill="#4a7ebb"/><path d="M560.13 1242.55l3.7 3.7l-3.7 3.7l-3.7 -3.7z" fill="#4a7ebb"/><path d="M591.08 1240.73l3.7 3.7l-3.7 3.7l-3.7 -3.7z" fill="#4a7ebb"/><path d="M622.03 1233.26l3.7 3.7l-3.7 3.7l-3.7 -3.7z" fill="#4a7ebb"/><polyline points="64.97,1380.41 95.92,1394.82 126.87,1393.18 157.82,1387.81 188.76,1388.71 219.71,1396.26 250.66,1408.1 281.61,1387.66 312.55,1352.01 343.5,1339.18 374.45,1313.54 405.39,1320.09 436.34,1319.6 467.29,1319.79 498.24,1319.79 529.18,1321.43 560.13,1321.43 591.08,1323.15 622.03,1323.13" fill="none" stroke="#be4b48" stroke-width="2.2" stroke-linejoin="round" stroke-linecap="round"/><rect x="61.67" y="1377.11" width="6.6" height="6.6" fill="#be4b48"/><rect x="92.62" y="1391.52" width="6.6" height="6.6" fill="#be4b48"/><rect x="123.57" y="1389.88" width="6.6" height="6.6" fill="#be4b48"/><rect x="154.52" y="1384.51" width="6.6" height="6.6" fill="#be4b48"/><rect x="185.46" y="1385.41" width="6.6" height="6.6" fill="#be4b48"/><rect x="216.41" y="1392.96" width="6.6" height="6.6" fill="#be4b48"/><rect x="247.36" y="1404.8" width="6.6" height="6.6" fill="#be4b48"/><rect x="278.31" y="1384.36" width="6.6" height="6.6" fill="#be4b48"/><rect x="309.25" y="1348.71" width="6.6" height="6.6" fill="#be4b48"/><rect x="340.2" y="1335.88" width="6.6" height="6.6" fill="#be4b48"/><rect x="371.15" y="1310.24" width="6.6" height="6.6" fill="#be4b48"/><rect x="402.09" y="1316.79" width="6.6" height="6.6" fill="#be4b48"/><rect x="433.04" y="1316.3" width="6.6" height="6.6" fill="#be4b48"/><rect x="463.99" y="1316.49" width="6.6" height="6.6" fill="#be4b48"/><rect x="494.94" y="1316.49" width="6.6" height="6.6" fill="#be4b48"/><rect x="525.88" y="1318.13" width="6.6" height="6.6" fill="#be4b48"/><rect x="556.83" y="1318.13" width="6.6" height="6.6" fill="#be4b48"/><rect x="587.78" y="1319.85" width="6.6" height="6.6" fill="#be4b48"/><rect x="618.73" y="1319.83" width="6.6" height="6.6" fill="#be4b48"/><polyline points="64.97,1409.38 95.92,1397.36 126.87,1374.24 157.82,1353.65 188.76,1413.02 219.71,1415.26 250.66,1418.24 281.61,1327.25 312.55,1326.65 343.5,1266.09 374.45,1192.84 405.39,1210.45 436.34,1230.77 467.29,1226.27 498.24,1229.85 529.18,1229.1 560.13,1231.79 591.08,1229.56 622.03,1220.67" fill="none" stroke="#98b954" stroke-width="2.2" stroke-linejoin="round" stroke-linecap="round"/><path d="M64.97 1405.68l3.7 7.4h-7.4z" fill="#98b954"/><path d="M95.92 1393.66l3.7 7.4h-7.4z" fill="#98b954"/><path d="M126.87 1370.54l3.7 7.4h-7.4z" fill="#98b954"/><path d="M157.82 1349.95l3.7 7.4h-7.4z" fill="#98b954"/><path d="M188.76 1409.32l3.7 7.4h-7.4z" fill="#98b954"/><path d="M219.71 1411.56l3.7 7.4h-7.4z" fill="#98b954"/><path d="M250.66 1414.54l3.7 7.4h-7.4z" fill="#98b954"/><path d="M281.61 1323.55l3.7 7.4h-7.4z" fill="#98b954"/><path d="M312.55 1322.95l3.7 7.4h-7.4z" fill="#98b954"/><path d="M343.5 1262.39l3.7 7.4h-7.4z" fill="#98b954"/><path d="M374.45 1189.14l3.7 7.4h-7.4z" fill="#98b954"/><path d="M405.39 1206.75l3.7 7.4h-7.4z" fill="#98b954"/><path d="M436.34 1227.07l3.7 7.4h-7.4z" fill="#98b954"/><path d="M467.29 1222.57l3.7 7.4h-7.4z" fill="#98b954"/><path d="M498.24 1226.15l3.7 7.4h-7.4z" fill="#98b954"/><path d="M529.18 1225.4l3.7 7.4h-7.4z" fill="#98b954"/><path d="M560.13 1228.09l3.7 7.4h-7.4z" fill="#98b954"/><path d="M591.08 1225.86l3.7 7.4h-7.4z" fill="#98b954"/><path d="M622.03 1216.97l3.7 7.4h-7.4z" fill="#98b954"/><path d="M220 1415.1L252.5 1413" stroke="#000" stroke-width="0.8"/><path d="M63.9 1414.5L65.3 1409.8" stroke="#000" stroke-width="0.8"/><path d="M98.5 1145H119" stroke="#4a7ebb" stroke-width="2"/><path d="M109 1141.6l3.4 3.4l-3.4 3.4l-3.4 -3.4z" fill="#4a7ebb"/><path d="M251.5 1145H271.5" stroke="#be4b48" stroke-width="2"/><rect x="258.5" y="1142" width="6" height="6" fill="#be4b48"/><path d="M383 1145H403.5" stroke="#98b954" stroke-width="2"/><path d="M392.5 1141.4l3.6 7.2h-7.2z" fill="#98b954"/></g>
<text class="h" x="119.92" y="1148.79" font-size="10" textLength="116" lengthAdjust="spacingAndGlyphs">CIOPI中国铁矿石价格指数</text>
<text class="h" x="272.14" y="1148.79" font-size="10" textLength="90" lengthAdjust="spacingAndGlyphs">国产铁矿石价格指数</text>
<text class="h" x="405.12" y="1148.79" font-size="10" textLength="90" lengthAdjust="spacingAndGlyphs">进口铁矿石价格指数</text>
<text class="sb" x="261.47" y="1129.81" font-size="14" textLength="168" lengthAdjust="spacingAndGlyphs">中国铁矿石价格指数走势图</text>
<text class="h" x="647.99" y="1141.5" font-size="10.5">点</text>
<text class="h" font-size="9.15" transform="translate(64.97 1446.43) rotate(-90) translate(-14.48 3.47)">10月末</text>
<text class="h" font-size="9.15" transform="translate(95.92 1446.43) rotate(-90) translate(-14.48 3.47)">11月末</text>
<text class="h" font-size="9.15" transform="translate(126.87 1446.43) rotate(-90) translate(-14.48 3.47)">12月末</text>
<text class="h" font-size="9.15" transform="translate(157.82 1443.89) rotate(-90) translate(-11.94 3.47)">1月末</text>
<text class="h" font-size="9.15" transform="translate(188.76 1443.89) rotate(-90) translate(-11.72 3.47)">2月末</text>
<text class="h" font-size="9.15" transform="translate(219.71 1443.89) rotate(-90) translate(-11.67 3.47)">3月末</text>
<text class="h" font-size="9.15" transform="translate(250.66 1443.89) rotate(-90) translate(-11.63 3.47)">4月末</text>
<text class="h" font-size="9.15" transform="translate(281.61 1443.89) rotate(-90) translate(-11.66 3.47)">5月末</text>
<text class="h" font-size="9.15" transform="translate(312.55 1443.89) rotate(-90) translate(-11.79 3.47)">6月末</text>
<text class="h" font-size="9.15" transform="translate(343.5 1443.89) rotate(-90) translate(-11.76 3.47)">7月末</text>
<text class="h" font-size="9.15" transform="translate(374.45 1443.89) rotate(-90) translate(-11.75 3.47)">8月末</text>
<text class="h" font-size="9.15" transform="translate(405.39 1443.89) rotate(-90) translate(-11.74 3.47)">9月末</text>
<text class="h" font-size="9.15" transform="translate(436.34 1446.43) rotate(-90) translate(-14.48 3.47)">10月末</text>
<text class="h" font-size="9.15" transform="translate(467.29 1448.97) rotate(-90) translate(-16.4 3.23)">11月2日</text>
<text class="h" font-size="9.15" transform="translate(498.24 1448.97) rotate(-90) translate(-16.4 3.23)">11月3日</text>
<text class="h" font-size="9.15" transform="translate(529.18 1448.97) rotate(-90) translate(-16.4 3.23)">11月4日</text>
<text class="h" font-size="9.15" transform="translate(560.13 1448.97) rotate(-90) translate(-16.4 3.23)">11月5日</text>
<text class="h" font-size="9.15" transform="translate(591.08 1448.97) rotate(-90) translate(-16.4 3.23)">11月6日</text>
<text class="h" font-size="9.15" transform="translate(622.03 1448.97) rotate(-90) translate(-16.4 3.23)">11月9日</text>
<text class="h" x="81.02" y="1480.51" font-size="9.2">2019年</text>
<text class="h" x="375.22" y="1480.51" font-size="9.2">2020年</text>
</svg>
</div>
</body></html>
